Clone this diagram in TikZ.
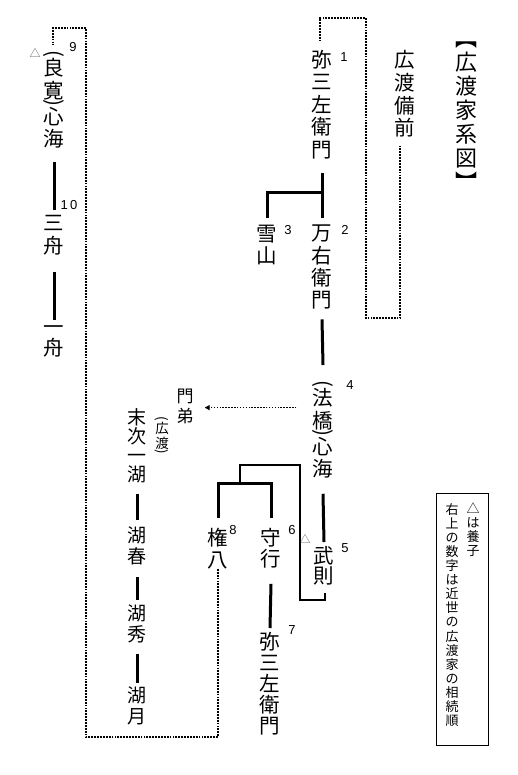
\documentclass[tikz,border=0pt]{standalone}
\usepackage{fontspec}
\newfontfamily\jpf{Noto Sans CJK JP}
\newfontfamily\latf{Liberation Sans}
\usetikzlibrary{calc,arrows.meta}
\newcommand{\vpo}{\rotatebox{-90}{(}}
\newcommand{\vpc}{\rotatebox{-90}{)}}
\begin{document}
\begin{tikzpicture}[x=1pt,y=-1pt,
 vt/.style={anchor=north,inner sep=0pt,align=center,font=\jpf\fontsize{20.5}{#1}\selectfont},
 vt/.default=22.5,
 vtm/.style={anchor=north,inner sep=0pt,align=center,font=\jpf\fontsize{19}{#1}\selectfont},
 vtm/.default=19.5,
 num/.style={inner sep=0pt,font=\latf\fontsize{13}{13}\selectfont},
 tri/.style={inner sep=0pt,font=\jpf\fontsize{11}{11}\selectfont,text=black!65},
 kin/.style={line width=3pt},
 thinl/.style={line width=1.5pt},
 dotline/.style={line width=2.6pt,dash pattern=on 1.8pt off 1.1pt},
 arrowdot/.style={line width=1.5pt,dash pattern=on 1.5pt off 1.4pt,-{Triangle[length=5pt,width=5pt]}},
]
\useasboundingbox (0,0) rectangle (517,775);
% title
\node[anchor=north,inner sep=0pt,align=center,font=\jpf\fontsize{22}{24}\selectfont] (tt) at (466,42) {︻\\広\\渡\\家\\系\\図\\︼};
% names
\node[vt=22.8] (bz) at (405,50) {広\\渡\\備\\前};
\node[vt=22.4] (n1) at (322,50) {弥\\三\\左\\衛\\門};
\node[vt=21.5] (n3) at (267,225) {雪\\山};
\node[vt=22.2] (n2) at (322,225) {万\\右\\衛\\門};
\node[vt] (n4) at (323,380.5) {\vpo\\法\\橋\\[-21.5pt]\vpc\\心\\海};
\node[vt=20] (n5) at (324,546) {武\\則};
\node[vt=21.5] (n8) at (218,528) {権\\八};
\node[vt=21.5] (n6) at (271,528) {守\\行};
\node[vt=21.1] (n7) at (270,632) {弥\\三\\左\\衛\\門};
\node[vt] (n9) at (54,50.5) {\vpo\\良\\寛\\[-21.5pt]\vpc\\心\\海};
\node[vt=23.5] (s3) at (54,215) {三\\舟};
\node[vt=21.5] (s1) at (54,325) {一\\舟};
\node[anchor=north,inner sep=0pt,align=center,font=\jpf\fontsize{17}{20}\selectfont] (mt) at (185,389) {門\\弟};
\node[vtm=19.2] (k1) at (137,408) {末\\次\\一\\湖};
\node[anchor=north,inner sep=0pt,align=center,font=\jpf\fontsize{13.5}{15}\selectfont] (hw) at (162,416) {\vpo\\広\\渡\\[-14pt]\vpc};
\node[vtm=20.5] (k2) at (137,527) {湖\\春};
\node[vtm=21] (k3) at (137,605) {湖\\秀};
\node[vtm=20.5] (k4) at (137,687) {湖\\月};
% numbers
\node[num] (m1) at (344,57) {1};
\node[num] (m2) at (345,230) {2};
\node[num] (m3) at (288,230) {3};
\node[num] (m4) at (350,385) {4};
\node[num] (m5) at (345,548) {5};
\node[num] (m6) at (292,530) {6};
\node[num] (m8) at (233,530) {8};
\node[num] (m7) at (292,630) {7};
\node[num] (m9) at (73,47) {9};
\node[num] (m10) at (69,205) {1\hspace{2.5pt}0};
% adoption marks
\node[tri] (t9) at (35,53) {△};
\node[tri] (t5) at (305,539) {△};
% legend
\node[draw,line width=0.8pt,minimum width=52pt,minimum height=252pt,inner sep=0pt] (lg) at (462,619) {};
\node[anchor=north,inner sep=0pt,align=center,font=\jpf\fontsize{13}{14}\selectfont] (lt1) at (473,503) {△\\は\\養\\子};
\node[anchor=north,inner sep=0pt,align=center,font=\jpf\fontsize{13}{14.1}\selectfont] (lt2) at (452,503) {右\\上\\の\\数\\字\\は\\近\\世\\の\\広\\渡\\家\\の\\相\\続\\順};
% solid connectors
\draw[kin] ($(n1.south)+(0,14)$) -- ($(n2.north)+(0,-7)$);
\draw[kin] ($(n1.south)+(0,34)$) -| ($(n3.north)+(0,-7)$);
\draw[kin] ($(n2.south)+(0,10)$) -- ($(n4.north)+(0,-15.5)$);
\draw[kin] ($(n4.south)+(0,15)$) -- ($(n5.north)+(0,-4)$);
\draw[kin] ($(n8.north)+(0,-10)$) |- ($(n6.north)+(0,-45)$) -- ($(n6.north)+(0,-10)$);
\draw[thinl] ($(n5.south)+(1,8)$) |- (300,600) |- (240,465) -- (240,482);
\draw[kin] ($(n6.south)+(0,15)$) -- ($(n7.north)+(0,-4)$);
\draw[kin] ($(n9.south)+(0,13)$) -- ($(s3.north)+(0,-5)$);
\draw[kin] ($(s3.south)+(0,16)$) -- ($(s1.north)+(0,-5)$);
\draw[kin] ($(k1.south)+(0,10)$) -- ($(k2.north)+(0,-7)$);
\draw[kin] ($(k2.south)+(0,12)$) -- ($(k3.north)+(0,-5)$);
\draw[kin] ($(k3.south)+(0,10)$) -- ($(k4.north)+(0,-4)$);
% dotted connectors
\draw[dotline] ($(bz.south)+(-5,8)$) |- (366,318) |- ($(n1.north)+(-2,-32)$) -- ($(n1.north)+(-2,-10)$);
\draw[dotline] (n8.south) |- (86,737) -- (86,28) -| ($(n9.north)+(-1,-5)$);
\draw[arrowdot] ($(n4.west |- mt.east)+(-16,1)$) -- ($(mt.east)+(11,1)$);
\end{tikzpicture}
\end{document}
